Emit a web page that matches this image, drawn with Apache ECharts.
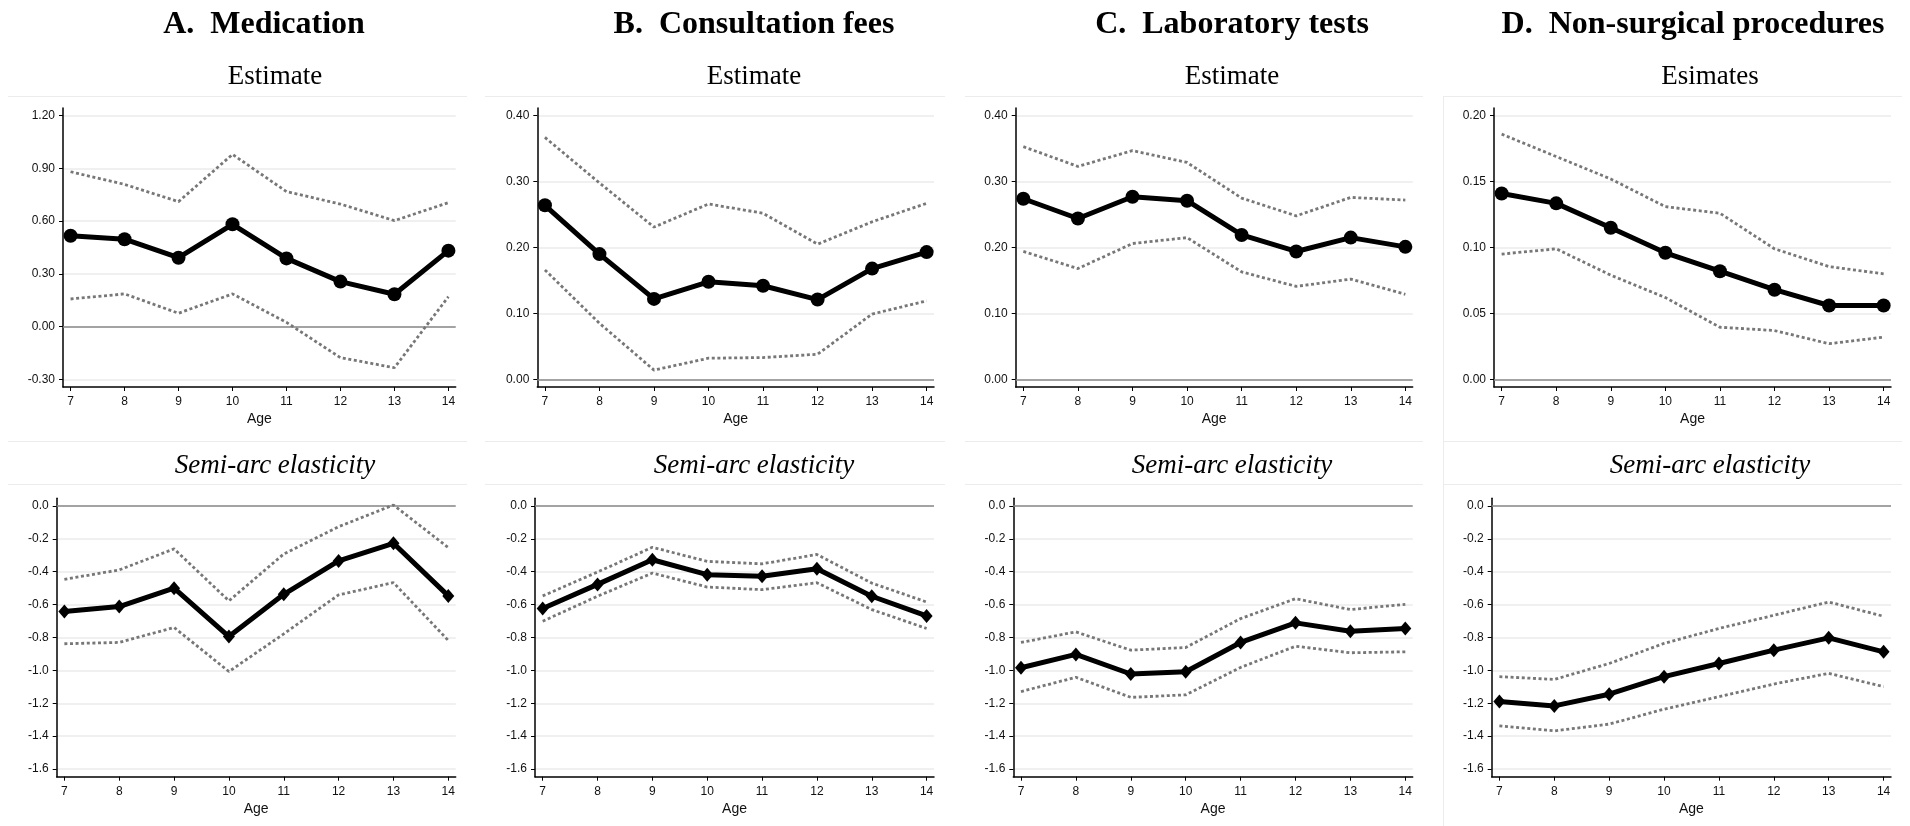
<!DOCTYPE html>
<html>
<head>
<meta charset="utf-8">
<script src="https://cdn.jsdelivr.net/npm/echarts@6/dist/echarts.min.js"></script>
<style>
html,body{margin:0;padding:0;background:#fff;}
#chart{width:1910px;height:826px;}
</style>
</head>
<body>
<div id="chart"></div>
<script>
// ---------------- DATA ----------------
const ages = [7, 8, 9, 10, 11, 12, 13, 14];

const panelTitles = ['A.  Medication', 'B.  Consultation fees', 'C.  Laboratory tests', 'D.  Non-surgical procedures'];
const topSubtitles = ['Estimate', 'Estimate', 'Estimate', 'Esimates'];
const bottomSubtitle = 'Semi-arc elasticity';
const xName = 'Age';

// Estimates (top row)
const medEst = [0.517, 0.497, 0.392, 0.582, 0.388, 0.256, 0.184, 0.432];
const medHi  = [0.881, 0.809, 0.711, 0.980, 0.768, 0.697, 0.603, 0.705];
const medLo  = [0.157, 0.186, 0.076, 0.186, 0.024, -0.177, -0.234, 0.170];

const conEst = [0.264, 0.190, 0.122, 0.148, 0.142, 0.121, 0.168, 0.193];
const conHi  = [0.367, 0.298, 0.231, 0.266, 0.252, 0.205, 0.239, 0.267];
const conLo  = [0.166, 0.085, 0.014, 0.032, 0.033, 0.038, 0.099, 0.119];

const labEst = [0.274, 0.244, 0.277, 0.271, 0.219, 0.194, 0.215, 0.201];
const labHi  = [0.353, 0.323, 0.347, 0.329, 0.275, 0.248, 0.276, 0.272];
const labLo  = [0.194, 0.168, 0.206, 0.215, 0.163, 0.141, 0.152, 0.129];

const nspEst = [0.141, 0.1335, 0.115, 0.096, 0.082, 0.068, 0.056, 0.056];
const nspHi  = [0.186, 0.169, 0.152, 0.131, 0.126, 0.099, 0.0855, 0.080];
const nspLo  = [0.095, 0.099, 0.079, 0.062, 0.0395, 0.037, 0.027, 0.032];

// Semi-arc elasticities (bottom row)
const medSemi   = [-0.642, -0.612, -0.500, -0.794, -0.537, -0.334, -0.227, -0.547];
const medSemiHi = [-0.446, -0.389, -0.261, -0.577, -0.292, -0.126, 0.006, -0.253];
const medSemiLo = [-0.838, -0.830, -0.739, -1.007, -0.778, -0.541, -0.466, -0.818];

const conSemi   = [-0.624, -0.477, -0.327, -0.418, -0.428, -0.382, -0.549, -0.669];
const conSemiHi = [-0.547, -0.402, -0.251, -0.337, -0.352, -0.295, -0.469, -0.584];
const conSemiLo = [-0.701, -0.549, -0.408, -0.493, -0.509, -0.467, -0.630, -0.745];

const labSemi   = [-0.984, -0.903, -1.022, -1.008, -0.830, -0.711, -0.762, -0.745];
const labSemiHi = [-0.830, -0.766, -0.877, -0.861, -0.685, -0.564, -0.630, -0.598];
const labSemiLo = [-1.129, -1.042, -1.164, -1.149, -0.982, -0.853, -0.893, -0.887];

const nspSemi   = [-1.190, -1.216, -1.145, -1.038, -0.958, -0.877, -0.802, -0.887];
const nspSemiHi = [-1.038, -1.055, -0.958, -0.836, -0.745, -0.665, -0.584, -0.671];
const nspSemiLo = [-1.337, -1.368, -1.327, -1.236, -1.160, -1.083, -1.018, -1.099];

// Tick values
const ticksMed  = [-0.30, 0.00, 0.30, 0.60, 0.90, 1.20];
const ticksCon  = [0.00, 0.10, 0.20, 0.30, 0.40];
const ticksLab  = [0.00, 0.10, 0.20, 0.30, 0.40];
const ticksNsp  = [0.00, 0.05, 0.10, 0.15, 0.20];
const ticksSemi = [-1.6, -1.4, -1.2, -1.0, -0.8, -0.6, -0.4, -0.2, 0.0];

// ---------------- LAYOUT ----------------
const topData = [
  {est: medEst, hi: medHi, lo: medLo, ticks: ticksMed, dec: 2},
  {est: conEst, hi: conHi, lo: conLo, ticks: ticksCon, dec: 2},
  {est: labEst, hi: labHi, lo: labLo, ticks: ticksLab, dec: 2},
  {est: nspEst, hi: nspHi, lo: nspLo, ticks: ticksNsp, dec: 2}
];
const botData = [
  {est: medSemi, hi: medSemiHi, lo: medSemiLo, ticks: ticksSemi, dec: 1},
  {est: conSemi, hi: conSemiHi, lo: conSemiLo, ticks: ticksSemi, dec: 1},
  {est: labSemi, hi: labSemiHi, lo: labSemiLo, ticks: ticksSemi, dec: 1},
  {est: nspSemi, hi: nspSemiHi, lo: nspSemiLo, ticks: ticksSemi, dec: 1}
];

const topGrids = [
  {left: 63, width: 392.7}, {left: 537.3, width: 396.7},
  {left: 1015.7, width: 397}, {left: 1494, width: 397}
];
const botGrids = [
  {left: 56.7, width: 399}, {left: 535, width: 399},
  {left: 1013.3, width: 399.4}, {left: 1491.7, width: 399.3}
];
const TOP_Y = 108, TOP_H = 279;
const BOT_Y = 498.3, BOT_H = 278.4;

const titleX = [264, 754, 1232, 1693];
const subX = [275, 754, 1232, 1710];
const sepRanges = [[8, 467], [485, 945], [965, 1423], [1443, 1902]];

const X_MIN = 6.86, X_MAX = 14.135;

const grids = [], xAxes = [], yAxes = [], series = [], graphics = [];

function addPanel(d, g, top, height, symbol, symSize) {
  const idx = grids.length;
  grids.push({left: g.left, width: g.width, top: top, height: height, containLabel: false});
  xAxes.push({
    type: 'value', gridIndex: idx, min: X_MIN, max: X_MAX,
    name: xName, nameLocation: 'middle', nameGap: 25,
    nameTextStyle: {fontFamily: 'Liberation Sans', fontSize: 14, color: '#111'},
    axisLine: {show: true, onZero: false, lineStyle: {color: '#000', width: 1.5}},
    axisTick: {show: true, length: 4, customValues: ages, lineStyle: {color: '#000', width: 1}},
    axisLabel: {customValues: ages, margin: 9, fontFamily: 'Liberation Sans', fontSize: 12, color: '#111',
      formatter: v => String(Math.round(v))},
    splitLine: {show: false}
  });
  const t = d.ticks;
  const lo = t[0], hi = t[t.length - 1];
  const range = hi - lo;
  const padTop = range * 7.7 / 263.6, padBot = range * 7.7 / 263.6;
  yAxes.push({
    type: 'value', gridIndex: idx, min: lo - padBot, max: hi + padTop,
    axisLine: {show: true, onZero: false, lineStyle: {color: '#000', width: 1.5}},
    axisTick: {show: true, length: 4, customValues: t, lineStyle: {color: '#000', width: 1}},
    axisLabel: {customValues: t, margin: 8, fontFamily: 'Liberation Sans', fontSize: 12, color: '#111',
      formatter: v => v.toFixed(d.dec)},
    splitLine: {show: true, lineStyle: {color: '#ebebeb', width: 1.5}}
  });
  const mk = arr => ages.map((a, i) => [a, arr[i]]);
  const ciStyle = {color: '#777', width: 2.8, type: [3, 2.6]};
  series.push({
    type: 'line', xAxisIndex: idx, yAxisIndex: idx, data: mk(d.hi), symbol: 'none',
    lineStyle: ciStyle, z: 3, silent: true,
    markLine: {silent: true, symbol: 'none', label: {show: false},
      lineStyle: {color: '#8a8a8a', width: 1.5, type: 'solid'}, data: [{yAxis: 0}], z: 2}
  });
  series.push({
    type: 'line', xAxisIndex: idx, yAxisIndex: idx, data: mk(d.lo), symbol: 'none',
    lineStyle: ciStyle, z: 3, silent: true
  });
  series.push({
    type: 'line', xAxisIndex: idx, yAxisIndex: idx, data: mk(d.est),
    symbol: symbol, symbolSize: symSize, showAllSymbol: true,
    itemStyle: {color: '#000'}, lineStyle: {color: '#000', width: 5}, z: 5, silent: true
  });
}

for (let i = 0; i < 4; i++) addPanel(topData[i], topGrids[i], TOP_Y, TOP_H, 'circle', 14);
for (let i = 0; i < 4; i++) addPanel(botData[i], botGrids[i], BOT_Y, BOT_H, 'diamond', [12, 14]);

function text(x, y, str, font) {
  graphics.push({type: 'text', x: x, y: y, silent: true,
    style: {text: str, font: font, fill: '#000', align: 'center', verticalAlign: 'middle'}});
}
function hline(x1, x2, y) {
  graphics.push({type: 'line', silent: true, shape: {x1: x1, y1: y, x2: x2, y2: y},
    style: {stroke: '#ececec', lineWidth: 1}});
}
for (let i = 0; i < 4; i++) {
  text(titleX[i], 24.5, panelTitles[i], 'bold 32px "Liberation Serif"');
  text(subX[i], 76.5, topSubtitles[i], '27px "Liberation Serif"');
  text(subX[i], 465.5, bottomSubtitle, 'italic 27px "Liberation Serif"');
  hline(sepRanges[i][0], sepRanges[i][1], 96.5);
  hline(sepRanges[i][0], sepRanges[i][1], 441.5);
  hline(sepRanges[i][0], sepRanges[i][1], 484.5);
}
graphics.push({type: 'line', silent: true, shape: {x1: 1443.5, y1: 96, x2: 1443.5, y2: 826},
  style: {stroke: '#ececec', lineWidth: 1}});

const chart = echarts.init(document.getElementById('chart'), null, {renderer: 'canvas'});
chart.setOption({
  animation: false,
  backgroundColor: '#fff',
  grid: grids,
  xAxis: xAxes,
  yAxis: yAxes,
  series: series,
  graphic: graphics
});
</script>
</body>
</html>
